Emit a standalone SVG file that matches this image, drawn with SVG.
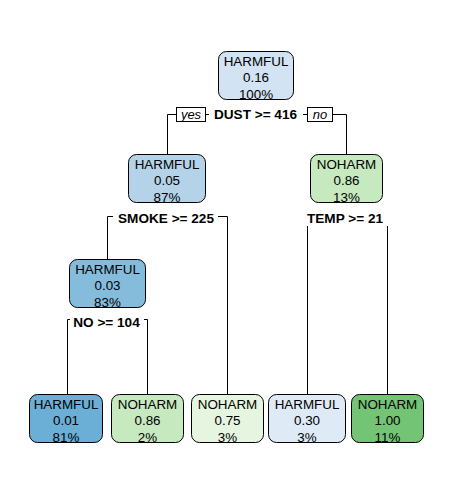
<svg xmlns="http://www.w3.org/2000/svg" width="451" height="494" viewBox="0 0 451 494">
  <style>
    .box { stroke: #000; stroke-width: 1; }
    .nt { font-family: "Liberation Sans", Arial, sans-serif; font-size: 13.4px; fill: #000; text-anchor: middle; }
    .st { font-family: "Liberation Sans", Arial, sans-serif; font-size: 13.6px; font-weight: bold; fill: #000; text-anchor: middle; }
    .yn { font-family: "Liberation Sans", Arial, sans-serif; font-size: 13px; font-style: italic; fill: #000; text-anchor: middle; }
    .lbg { fill: #fff; stroke: none; }
    .ynbox { fill: #fff; stroke: #000; stroke-width: 1; }
    .edge { fill: none; stroke: #000; stroke-width: 1; }
  </style>
  <rect width="451" height="494" fill="#fff"/>

  <!-- branch lines -->
  <g id="connectors">
    <path class="edge" d="M167.5,154.5 V114.5 H346.5 V154.5"/>
    <path class="edge" d="M107.5,259.5 V216.5 H227.5 V394.5"/>
    <path class="edge" d="M307.5,394.5 V216.5 H387.5 V394.5"/>
    <path class="edge" d="M67.5,394.5 V319.5 H147.5 V394.5"/>
  </g>

  <!-- split labels -->
  <g id="split-dust">
    <rect class="lbg" x="209" y="106" width="94" height="17"/>
    <text class="st" x="255.5" y="119">DUST &gt;= 416</text>
    <rect class="ynbox" x="176.5" y="107.5" width="29" height="14"/>
    <text class="yn" x="191" y="118.5">yes</text>
    <rect class="ynbox" x="307.5" y="107.5" width="25" height="14"/>
    <text class="yn" x="320" y="118.5">no</text>
  </g>
  <g id="split-smoke">
    <rect class="lbg" x="113" y="209" width="105" height="17"/>
    <text class="st" x="166" y="223">SMOKE &gt;= 225</text>
  </g>
  <g id="split-temp">
    <rect class="lbg" x="303" y="209" width="89" height="17"/>
    <text class="st" x="345" y="223">TEMP &gt;= 21</text>
  </g>
  <g id="split-no">
    <rect class="lbg" x="70" y="313" width="74" height="17"/>
    <text class="st" x="106.5" y="327">NO &gt;= 104</text>
  </g>

  <!-- nodes -->
  <g id="node1">
    <rect class="box" x="218.5" y="51.5" width="75" height="48" rx="8" fill="#d2e3f3"/>
    <text class="nt" x="256" y="65.5">HARMFUL</text>
    <text class="nt" x="256" y="82">0.16</text>
    <text class="nt" x="256" y="98.5">100%</text>
  </g>
  <g id="node2">
    <rect class="box" x="128.5" y="154.5" width="77" height="48" rx="8" fill="#b4d3e9"/>
    <text class="nt" x="167" y="168.5">HARMFUL</text>
    <text class="nt" x="167" y="185">0.05</text>
    <text class="nt" x="167" y="201.5">87%</text>
  </g>
  <g id="node3">
    <rect class="box" x="310.5" y="154.5" width="72" height="48" rx="8" fill="#c7e9c0"/>
    <text class="nt" x="346.5" y="168.5">NOHARM</text>
    <text class="nt" x="346.5" y="185">0.86</text>
    <text class="nt" x="346.5" y="201.5">13%</text>
  </g>
  <g id="node4">
    <rect class="box" x="69.5" y="259.5" width="76" height="48" rx="8" fill="#85bcdc"/>
    <text class="nt" x="107.5" y="273.5">HARMFUL</text>
    <text class="nt" x="107.5" y="290">0.03</text>
    <text class="nt" x="107.5" y="306.5">83%</text>
  </g>
  <g id="leaf1">
    <rect class="box" x="29.5" y="394.5" width="73" height="48" rx="8" fill="#6baed6"/>
    <text class="nt" x="66" y="408.5">HARMFUL</text>
    <text class="nt" x="66" y="425">0.01</text>
    <text class="nt" x="66" y="441.5">81%</text>
  </g>
  <g id="leaf2">
    <rect class="box" x="111.5" y="394.5" width="72" height="48" rx="8" fill="#c7e9c0"/>
    <text class="nt" x="147.5" y="408.5">NOHARM</text>
    <text class="nt" x="147.5" y="425">0.86</text>
    <text class="nt" x="147.5" y="441.5">2%</text>
  </g>
  <g id="leaf3">
    <rect class="box" x="191.5" y="394.5" width="72" height="48" rx="8" fill="#e5f5e0"/>
    <text class="nt" x="227.5" y="408.5">NOHARM</text>
    <text class="nt" x="227.5" y="425">0.75</text>
    <text class="nt" x="227.5" y="441.5">3%</text>
  </g>
  <g id="leaf4">
    <rect class="box" x="268.5" y="394.5" width="77" height="48" rx="8" fill="#deebf7"/>
    <text class="nt" x="307" y="408.5">HARMFUL</text>
    <text class="nt" x="307" y="425">0.30</text>
    <text class="nt" x="307" y="441.5">3%</text>
  </g>
  <g id="leaf5">
    <rect class="box" x="351.5" y="394.5" width="72" height="48" rx="8" fill="#74c476"/>
    <text class="nt" x="387.5" y="408.5">NOHARM</text>
    <text class="nt" x="387.5" y="425">1.00</text>
    <text class="nt" x="387.5" y="441.5">11%</text>
  </g>
</svg>
